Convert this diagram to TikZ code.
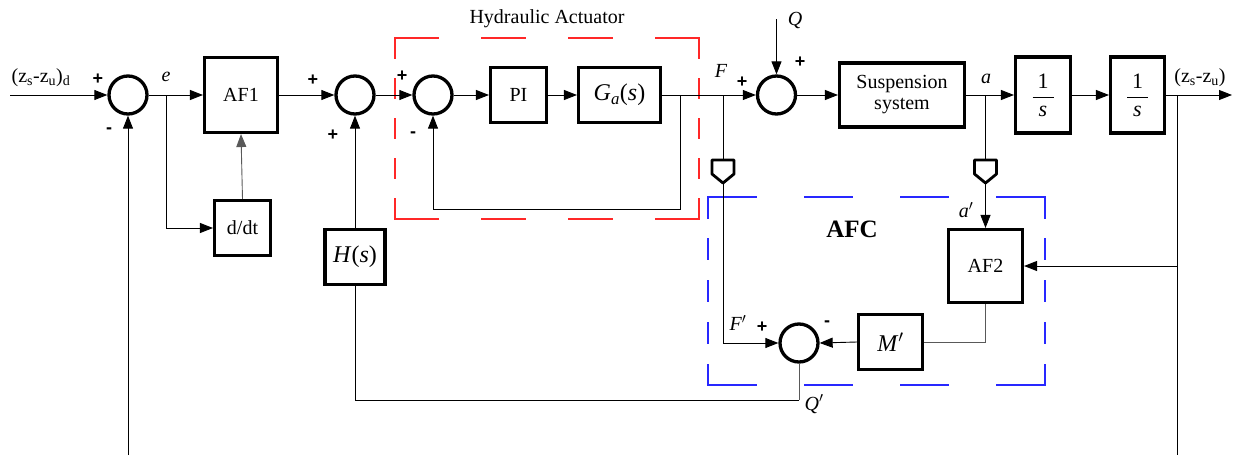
\documentclass[tikz,border=0pt]{standalone}
\usepackage{fontspec}
\setmainfont{Liberation Serif}
\newfontfamily\signfont{Liberation Sans}
\usetikzlibrary{arrows.meta}
\definecolor{frred}{RGB}{255,40,40}
\definecolor{frblue}{RGB}{40,40,255}
\begin{document}
\begin{tikzpicture}[x=1pt,y=-1pt,
  blk/.style={draw, line width=3.1pt, inner sep=0pt, align=center, font=\fontsize{20}{23}\selectfont},
  mblk/.style={blk, font=\fontsize{24}{28}\selectfont},
  sumnode/.style={circle, draw, line width=3.3pt, minimum size=38pt, inner sep=0pt},
  wire/.style={line width=0.9pt},
  gwire/.style={wire, draw=black!65},
  arr/.style={wire, -{Triangle[length=13pt,width=10pt]}},
  sign/.style={font=\signfont\bfseries\fontsize{18}{18}\selectfont, inner sep=0pt},
  lbl/.style={font=\fontsize{20}{24}\selectfont, inner sep=0pt},
  pics/sensor/.style={code={
    \draw[line width=2.8pt, fill=white, line join=round] (-11,0) -- (11,0) -- (11,14) -- (0,23) -- (-11,14) -- cycle;
    \coordinate (-top) at (0,0);
    \coordinate (-bot) at (0,23);}}
]
\useasboundingbox (0,0) rectangle (1233,455);

% dashed frame of the hydraulic actuator (red), dashes as thin bars
\foreach \k in {0,1,2,3}{
  \fill[frred] ({394.4+86.8*\k},37.4) rectangle ({439+86.8*\k},38.7);
  \fill[frred] ({394.4+86.8*\k},218.4) rectangle ({439+86.8*\k},219.7);
}
\foreach \k in {0,1,2,3,4}{
  \fill[frred] (394.4,{37.4+40.2*\k}) rectangle (395.7,{58.7+40.2*\k});
  \fill[frred] (698.4,{37.4+40.2*\k}) rectangle (699.7,{58.7+40.2*\k});
}
% dashed frame of the AFC (blue)
\foreach \k in {0,1,2,3}{
  \fill[frblue] ({707.4+96.2*\k},196.4) rectangle ({756.7+96.2*\k},197.7);
  \fill[frblue] ({707.4+96.2*\k},384.4) rectangle ({756.7+96.2*\k},385.7);
}
\foreach \k in {0,1,2,3,4}{
  \fill[frblue] (707.4,{196.4+41.8*\k}) rectangle (708.7,{218.5+41.8*\k});
  \fill[frblue] (1044.4,{196.4+41.8*\k}) rectangle (1045.7,{218.5+41.8*\k});
}

% blocks
\node[blk, minimum width=73pt, minimum height=75pt] (af1) at (241,95) {AF1};
\node[blk, minimum width=56pt, minimum height=55pt] (ddt) at (242.5,228) {d/dt};
\node[mblk, minimum width=60pt, minimum height=55pt] (hs) at (355,257) {\textit{H}(\textit{s})};
\node[blk, minimum width=56pt, minimum height=55pt] (pi) at (518.5,95) {PI};
\node[mblk, minimum width=82pt, minimum height=55pt] (ga) at (619.5,95) {\textit{G}\textsubscript{\textit{a}}(\textit{s})};
\node[blk, minimum width=125pt, minimum height=64pt] (sus) at (902,95) {Suspension\\[-2pt]system};
\node[blk, minimum width=55pt, minimum height=76pt] (i1) at (1043,95) {\fontsize{22}{26}\selectfont$\displaystyle{\hbox to 21pt{\hss 1\hss}\over\hbox{\itshape s}}$};
\node[blk, minimum width=54pt, minimum height=76pt] (i2) at (1137.5,95) {\fontsize{22}{26}\selectfont$\displaystyle{\hbox to 21pt{\hss 1\hss}\over\hbox{\itshape s}}$};
\node[blk, minimum width=74pt, minimum height=73pt] (af2) at (985.5,266) {AF2};
\node[mblk, minimum width=64pt, minimum height=55pt] (mp) at (890.5,342) {\textit{M}$'$};

% summing junctions
\node[sumnode] (s1) at (128,95) {};
\node[sumnode] (s2) at (355,95) {};
\node[sumnode] (s3) at (433,95) {};
\node[sumnode] (sq) at (776.5,95) {};
\node[sumnode] (s4) at (799,343) {};

% sensors
\pic (sen1) at (723,160) {sensor};
\pic (sen2) at (985.5,160) {sensor};

% free ends and branch points
\coordinate (in) at (10,95);
\coordinate (out) at (1232,95);
\coordinate (eb) at (166,95);
\coordinate (fb) at (680,95);
\coordinate (fbr) at (680,209);
\coordinate (Fb) at (723,95);
\coordinate (ab) at (985.5,95);
\coordinate (zb) at (1177,95);
\coordinate (zbot) at (1177,455);
\coordinate (lbot) at (128,455);
\coordinate (qtop) at (776.5,19);
\coordinate (qp) at (799,400);

% main chain
\draw[arr] (in) -- (s1.west);
\draw[arr] (s1.east) -- (af1.west);
\draw[arr] (eb) |- (ddt.west);
\draw[arr, draw=black!65] (ddt.north) -- (af1.south);
\draw[arr] (af1.east) -- (s2.west);
\draw[arr] (s2.east) -- (s3.west);
\draw[arr] (s3.east) -- (pi.west);
\draw[arr] (pi.east) -- (ga.west);
\draw[arr] (ga.east) -- (sq.west);
\draw[arr] (fb) -- (fbr) -| (s3.south);
\draw[arr] (qtop) -- (sq.north);
\draw[arr] (sq.east) -- (sus.west);
\draw[arr] (sus.east) -- (i1.west);
\draw[arr] (i1.east) -- (i2.west);
\draw[arr] (i2.east) -- (out);
\draw[wire] (zb) -- (zbot);
\draw[arr] (af2.east -| zb) -- (af2.east);
\draw[arr] (lbot) -- (s1.south);
\draw[arr] (hs.north) -- (s2.south);

% AFC loop
\draw[wire] (Fb) -- (sen1-top);
\draw[arr] (sen1-bot) |- (s4.west);
\draw[wire] (ab) -- (sen2-top);
\draw[arr] (sen2-bot) -- (af2.north);
\draw[gwire] (af2.south) |- (mp.east);
\draw[arr] (mp.west) -- (s4.east);
\draw[gwire] (s4.south) -- (qp);
\draw[wire] (qp) -| (hs.south);

% labels
\node[lbl] (lzd) at (41,78) {(z\textsubscript{s}-z\textsubscript{u})\textsubscript{d}};
\node[lbl] (lzo) at (1200,78) {(z\textsubscript{s}-z\textsubscript{u})};
\node[lbl] (le) at (166,77) {\textit{e}};
\node[lbl] (lha) at (547,19) {Hydraulic Actuator};
\node[lbl] (lF) at (721,71) {\textit{F}};
\node[lbl] (lQ) at (795,20) {\textit{Q}};
\node[lbl] (la) at (986,79) {\textit{a}};
\node[lbl] (lap) at (966,210) {\textit{a}$'$};
\node[lbl] (lFp) at (738,323) {\textit{F}$'$};
\node[lbl] (lQp) at (814,404) {\textit{Q}$'$};
\node[lbl, font=\fontsize{25}{28}\selectfont\bfseries] (lafc) at (852,229) {AFC};

\node[sign] (p1) at (98,79) {+};
\node[sign] (m1) at (109,131) {-};
\node[sign] (p2) at (313,80) {+};
\node[sign] (p2b) at (333,135) {+};
\node[sign] (p3) at (402,76) {+};
\node[sign] (m3) at (413,135) {-};
\node[sign] (pq1) at (742,82) {+};
\node[sign] (pq2) at (800,62) {+};
\node[sign] (p4) at (762,327) {+};
\node[sign] (m4) at (827,324) {-};
\end{tikzpicture}
\end{document}
